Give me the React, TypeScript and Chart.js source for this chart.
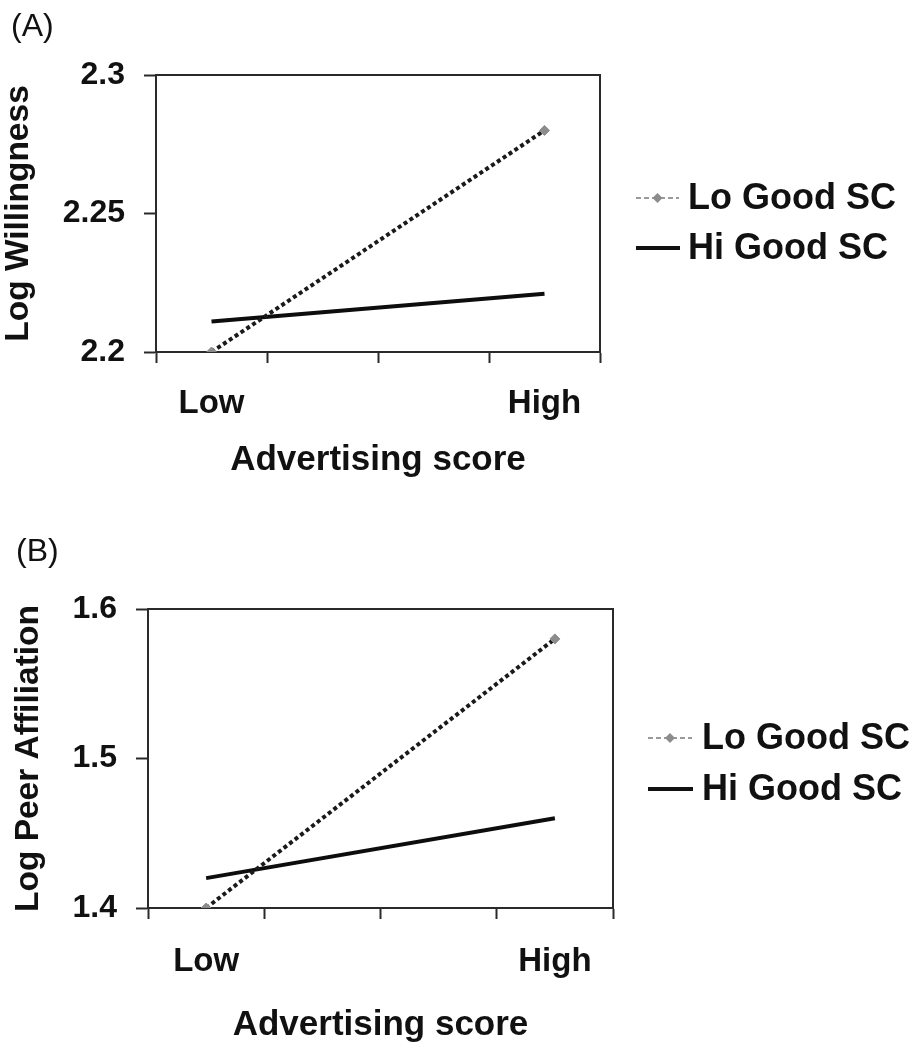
import React, { useEffect, useRef } from 'react';
import { Chart, registerables } from 'chart.js';

Chart.register(...registerables);

// ---- data ----
const categories = ['Low', 'High'];
const seriesNames = ['Lo Good SC', 'Hi Good SC'];

const panelALo = [2.2, 2.28];
const panelAHi = [2.211, 2.221];
const panelATicks = [2.2, 2.25, 2.3];

const panelBLo = [1.4, 1.58];
const panelBHi = [1.42, 1.46];
const panelBTicks = [1.4, 1.5, 1.6];

const FONT = '"Liberation Sans", Arial, Helvetica, sans-serif';
const AXIS = '#2a2a2a';
const TEXT = '#111111';

type PanelCfg = {
  tag: string;
  yTitle: string;
  xTitle: string;
  lo: number[];
  hi: number[];
  yTicks: number[];
  height: number;
  top: number;
  padRight: number;
  yAxisW: number;
  xAxisH: number;
  xTickPad: number;
  xTitlePad: number;
  yTitlePad: number;
  tagX: number;
  tagY: number;
  legendX: number;
  legendLineX0: number;
  legendLineX1: number;
  legendY: number[];
};

const panels: PanelCfg[] = [
  {
    tag: '(A)',
    yTitle: 'Log Willingness',
    xTitle: 'Advertising score',
    lo: panelALo,
    hi: panelAHi,
    yTicks: panelATicks,
    height: 500,
    top: 75,
    padRight: 313,
    yAxisW: 156,
    xAxisH: 148,
    xTickPad: 21,
    xTitlePad: 19,
    yTitlePad: 2,
    tagX: 11,
    tagY: 36,
    legendX: 688,
    legendLineX0: 636,
    legendLineX1: 679,
    legendY: [198, 248],
  },
  {
    tag: '(B)',
    yTitle: 'Log Peer Affiliation',
    xTitle: 'Advertising score',
    lo: panelBLo,
    hi: panelBHi,
    yTicks: panelBTicks,
    height: 550,
    top: 109,
    padRight: 300,
    yAxisW: 148,
    xAxisH: 142,
    xTickPad: 23,
    xTitlePad: 4,
    yTitlePad: 12,
    tagX: 16,
    tagY: 61,
    legendX: 702,
    legendLineX0: 648,
    legendLineX1: 692,
    legendY: [238, 289],
  },
];

// four equal slots along the axis: the two categories sit in the outer slots
function slotLabels(): string[] {
  return [categories[0], '', '', categories[1]];
}
function slotData(v: number[]): (number | null)[] {
  return [v[0], null, null, v[1]];
}

function Panel({ cfg }: { cfg: PanelCfg }) {
  const ref = useRef<HTMLCanvasElement | null>(null);

  useEffect(() => {
    const canvas = ref.current;
    if (!canvas) return;

    const decor = {
      id: 'decor',
      afterDraw(chart: any) {
        const { ctx, chartArea: a } = chart;
        ctx.save();
        // top + right border of plot box
        ctx.strokeStyle = AXIS;
        ctx.lineWidth = 2;
        ctx.beginPath();
        ctx.moveTo(a.left, a.top);
        ctx.lineTo(a.right, a.top);
        ctx.lineTo(a.right, a.bottom);
        ctx.stroke();

        // panel tag
        ctx.fillStyle = TEXT;
        ctx.font = `32px ${FONT}`;
        ctx.textBaseline = 'alphabetic';
        ctx.textAlign = 'left';
        ctx.fillText(cfg.tag, cfg.tagX, cfg.tagY);

        // legend
        const x0 = cfg.legendLineX0;
        const x1 = cfg.legendLineX1;
        // Lo Good SC sample: thin grey dashed with diamond
        let y = cfg.legendY[0];
        ctx.strokeStyle = '#9a9a9a';
        ctx.lineWidth = 2;
        ctx.setLineDash([5, 3]);
        ctx.beginPath();
        ctx.moveTo(x0, y);
        ctx.lineTo(x1, y);
        ctx.stroke();
        ctx.setLineDash([]);
        const cx = (x0 + x1) / 2;
        ctx.fillStyle = '#8c8c8c';
        ctx.beginPath();
        ctx.moveTo(cx, y - 5);
        ctx.lineTo(cx + 5, y);
        ctx.lineTo(cx, y + 5);
        ctx.lineTo(cx - 5, y);
        ctx.closePath();
        ctx.fill();
        // Hi Good SC sample: solid black
        y = cfg.legendY[1];
        ctx.strokeStyle = '#111';
        ctx.lineWidth = 4;
        ctx.beginPath();
        ctx.moveTo(x0, y);
        ctx.lineTo(x1 + 1, y);
        ctx.stroke();

        ctx.fillStyle = TEXT;
        ctx.font = `bold 36px ${FONT}`;
        ctx.textBaseline = 'middle';
        seriesNames.forEach((name, i) => {
          ctx.fillText(name, cfg.legendX, cfg.legendY[i] + 1);
        });
        ctx.restore();
      },
    };

    const chart = new Chart(canvas, {
      type: 'line',
      data: {
        labels: slotLabels(),
        datasets: [
          {
            label: seriesNames[0],
            data: slotData(cfg.lo),
            borderColor: '#1a1a1a',
            borderWidth: 4,
            borderDash: [4, 3],
            borderCapStyle: 'butt',
            spanGaps: true,
            pointStyle: 'rectRot',
            pointRadius: 5,
            pointBackgroundColor: '#8c8c8c',
            pointBorderColor: '#8c8c8c',
            pointBorderWidth: 1,
            tension: 0,
          },
          {
            label: seriesNames[1],
            data: slotData(cfg.hi),
            borderColor: '#0d0d0d',
            borderWidth: 4,
            spanGaps: true,
            pointRadius: 0,
            tension: 0,
          },
        ],
      },
      options: {
        animation: false,
        responsive: false,
        devicePixelRatio: 1,
        layout: { padding: { left: 0, top: cfg.top, right: cfg.padRight, bottom: 0 } },
        plugins: {
          legend: { display: false },
          tooltip: { enabled: false },
        },
        scales: {
          x: {
            type: 'category',
            offset: true,
            grid: {
              offset: true,
              drawOnChartArea: false,
              drawTicks: true,
              tickLength: 11,
              tickWidth: 2,
              tickColor: AXIS,
            },
            border: { display: true, color: AXIS, width: 2 },
            ticks: {
              autoSkip: false,
              maxRotation: 0,
              minRotation: 0,
              padding: cfg.xTickPad,
              color: TEXT,
              font: { family: FONT, size: 33, weight: 'bold' },
            },
            title: {
              display: true,
              text: cfg.xTitle,
              color: TEXT,
              font: { family: FONT, size: 35, weight: 'bold' },
              padding: { top: 0, bottom: cfg.xTitlePad },
            },
            afterFit: (s: any) => {
              s.height = cfg.xAxisH;
            },
          },
          y: {
            type: 'linear',
            min: cfg.yTicks[0],
            max: cfg.yTicks[cfg.yTicks.length - 1],
            afterBuildTicks: (s: any) => {
              s.ticks = cfg.yTicks.map((v) => ({ value: v }));
            },
            grid: {
              drawOnChartArea: false,
              drawTicks: true,
              tickLength: 12,
              tickWidth: 2,
              tickColor: AXIS,
            },
            border: { display: true, color: AXIS, width: 2 },
            ticks: {
              padding: 19,
              color: TEXT,
              font: { family: FONT, size: 32, weight: 'bold' },
              callback: (v: any) => String(v),
            },
            title: {
              display: true,
              text: cfg.yTitle,
              color: TEXT,
              font: { family: FONT, size: 33.5, weight: 'bold', lineHeight: 1 },
              padding: { top: cfg.yTitlePad, bottom: 0 },
            },
            afterFit: (s: any) => {
              s.width = cfg.yAxisW;
            },
          },
        },
      },
      plugins: [decor],
    } as any);

    return () => chart.destroy();
  }, [cfg]);

  return (
    <canvas
      ref={ref}
      width={913}
      height={cfg.height}
      style={{ display: 'block', width: 913, height: cfg.height }}
    />
  );
}

export default function App() {
  return (
    <div
      style={{
        position: 'absolute',
        left: 0,
        top: 0,
        width: 913,
        height: 1050,
        background: '#ffffff',
        overflow: 'hidden',
      }}
    >
      {panels.map((p) => (
        <Panel key={p.tag} cfg={p} />
      ))}
    </div>
  );
}
